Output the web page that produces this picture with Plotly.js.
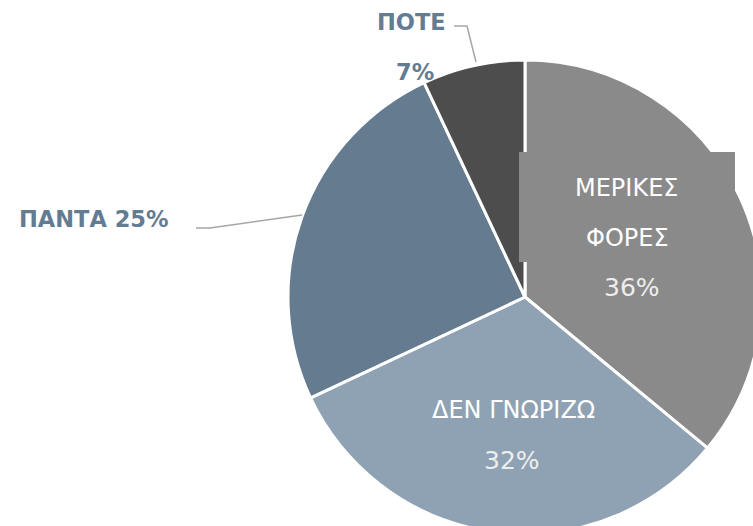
<!DOCTYPE html>
<html><head><meta charset="utf-8">
<script src="https://cdn.plot.ly/plotly-3.0.1.min.js"></script>
<style>html,body{margin:0;padding:0;overflow:hidden;background:#fff;width:753px;height:526px}#chart{width:800px;height:560px}</style>
</head><body><div id="chart"></div>
<script>
const labels = ["ΜΕΡΙΚΕΣ ΦΟΡΕΣ", "ΔΕΝ ΓΝΩΡΙΖΩ", "ΠΑΝΤΑ", "ΠΟΤΕ"];
const values = [36, 32, 25, 7];
const colors = ["#8a8a8a", "#8fa2b4", "#647b90", "#4d4d4d"];

const W = 800, H = 560, L = 288, T = 60, S = 474;
const px = x => (x - L) / S;
const py = y => 1 - (y - T) / S;
const pct = v => v + "%";
const font = "DejaVu Sans, Verdana, sans-serif";
const labCol = "#647c91";

const ann = [];
function a(text, x, y, size, color) {
  ann.push({text: text, x: px(x), y: py(y), xref: "paper", yref: "paper",
    showarrow: false, xanchor: "center", yanchor: "middle",
    font: {family: font, size: size, color: color}});
}
// ΜΕΡΙΚΕΣ ΦΟΡΕΣ
const mParts = labels[0].split(" ");
a(mParts[0], 627, 188, 24, "#ffffff");
a(mParts[1], 627, 238, 24, "#ffffff");
a(pct(values[0]), 632, 287, 25, "#eeeeee");
// ΔΕΝ ΓΝΩΡΙΖΩ
a(labels[1], 513, 410, 24, "#ffffff");
a(pct(values[1]), 512, 460, 25, "#eeeeee");
// ΠΑΝΤΑ
a("<b>" + labels[2] + " " + pct(values[2]) + "</b>", 94, 219, 22.5, labCol);
// ΠΟΤΕ
a("<b>" + labels[3] + "</b>", 411, 22, 22.5, labCol);
a("<b>" + pct(values[3]) + "</b>", 415, 72, 22.5, labCol);

const lineStyle = {color: "#a6a6a6", width: 1.5};
const shapes = [
  {type: "rect", xref: "paper", yref: "paper", x0: px(519), x1: px(735), y0: py(152), y1: py(262),
   fillcolor: colors[0], line: {width: 0}, layer: "above"},
  {type: "path", xref: "paper", yref: "paper", line: lineStyle,
   path: `M ${px(454)} ${py(26)} L ${px(467)} ${py(26)} L ${px(476)} ${py(62)}`},
  {type: "path", xref: "paper", yref: "paper", line: lineStyle,
   path: `M ${px(196)} ${py(228)} L ${px(210)} ${py(228)} L ${px(302)} ${py(215)}`}
];

Plotly.newPlot("chart", [{
  type: "pie", labels: labels, values: values, sort: false, direction: "clockwise",
  rotation: 0, textinfo: "none", hoverinfo: "label+percent",
  marker: {colors: colors, line: {color: "#ffffff", width: 3}}
}], {
  width: W, height: H, showlegend: false,
  margin: {l: L, r: W - L - S, t: T, b: H - T - S, pad: 0},
  paper_bgcolor: "#ffffff", annotations: ann, shapes: shapes
}, {displayModeBar: false, staticPlot: true});
</script></body></html>
